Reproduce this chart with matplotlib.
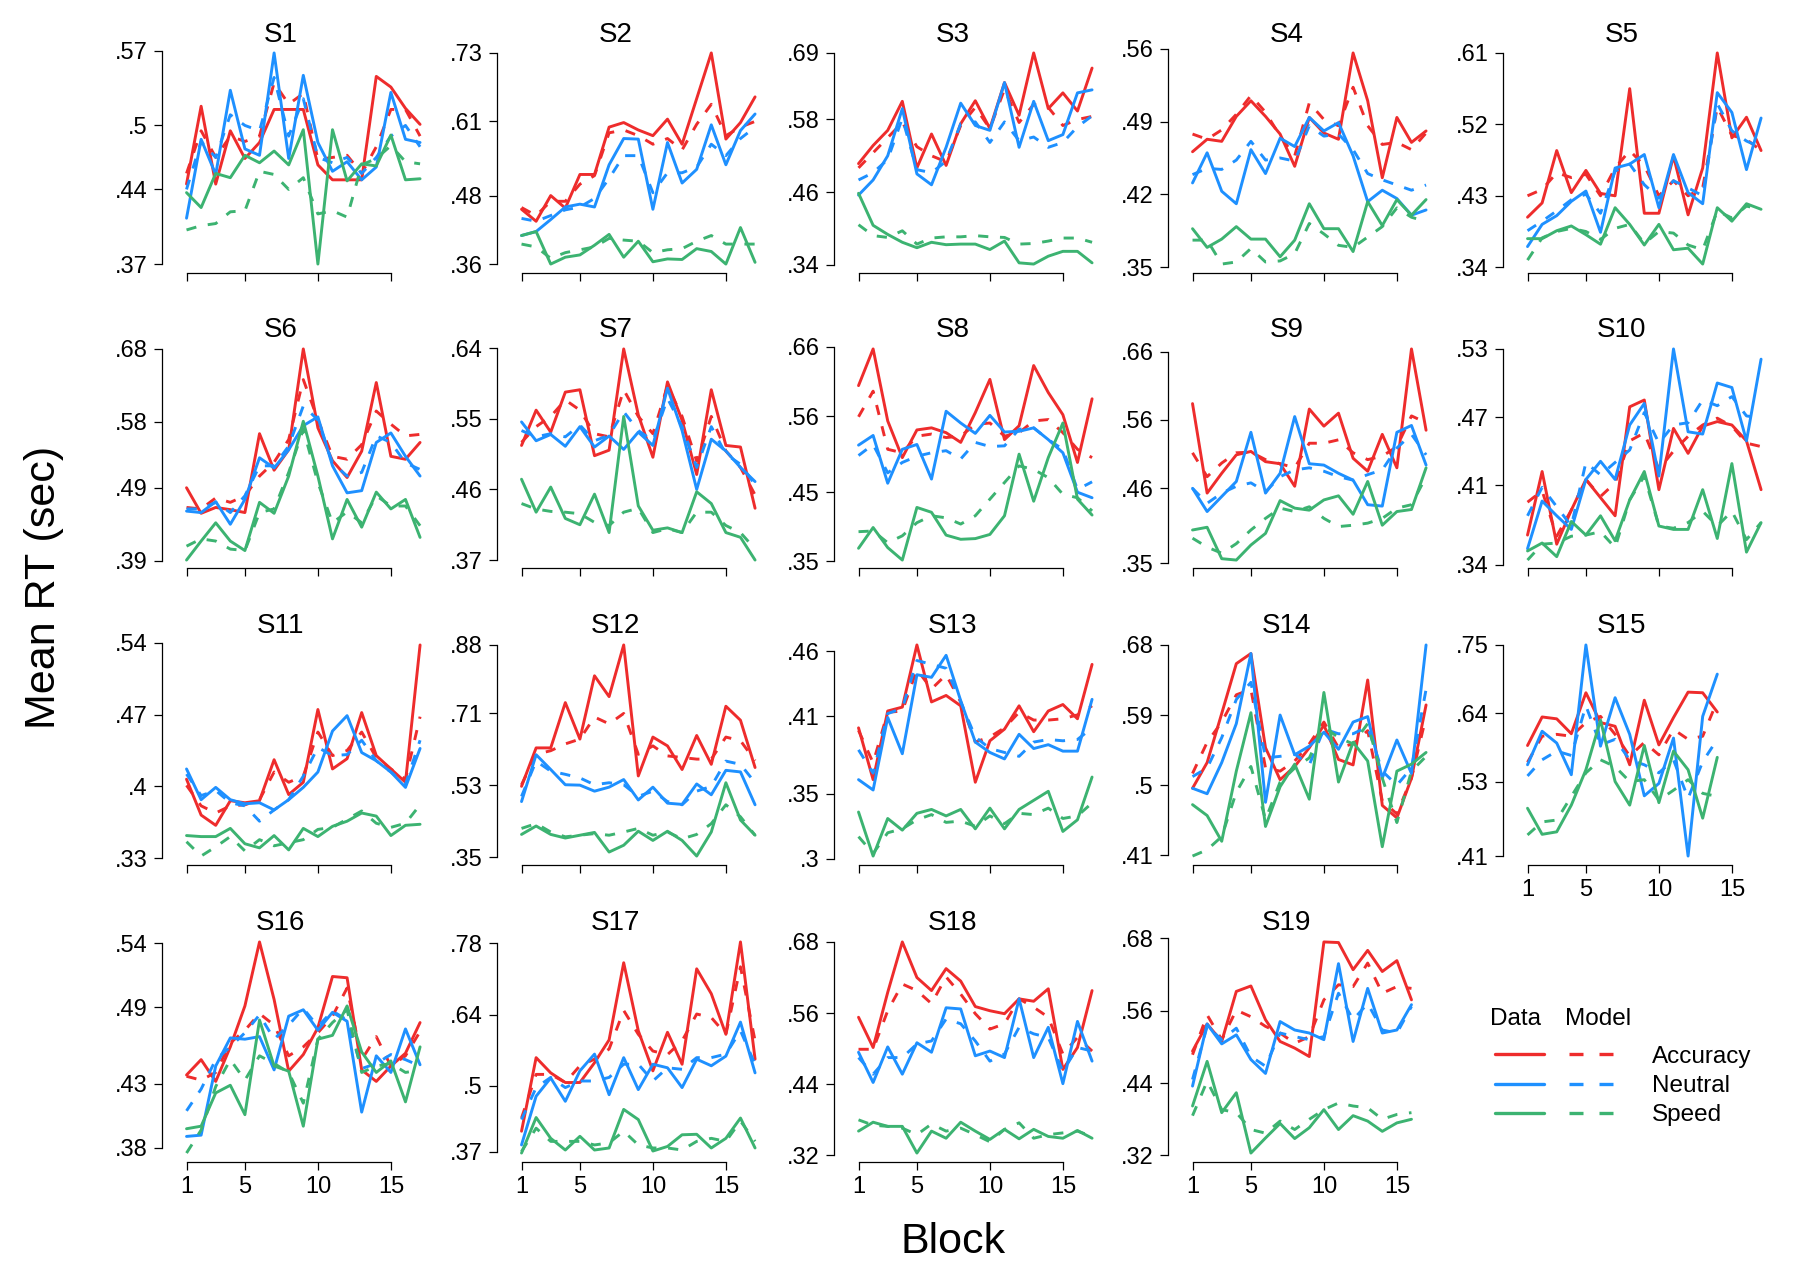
import numpy as np
import matplotlib
matplotlib.use('Agg')
import matplotlib.pyplot as plt
import matplotlib.transforms as mtransforms

plt.rcParams['font.family'] = ['Liberation Sans', 'DejaVu Sans']

subjects = ['S%d' % i for i in range(1, 20)]
x_ticks = [1, 5, 10, 15]

# y tick labels per subject (as printed)
y_ticks = [
    ['.37', '.44', '.5', '.57'], ['.36', '.48', '.61', '.73'], ['.34', '.46', '.58', '.69'],
    ['.35', '.42', '.49', '.56'], ['.34', '.43', '.52', '.61'], ['.39', '.49', '.58', '.68'],
    ['.37', '.46', '.55', '.64'], ['.35', '.45', '.56', '.66'], ['.35', '.46', '.56', '.66'],
    ['.34', '.41', '.47', '.53'], ['.33', '.4', '.47', '.54'], ['.35', '.53', '.71', '.88'],
    ['.3', '.35', '.41', '.46'], ['.41', '.5', '.59', '.68'], ['.41', '.53', '.64', '.75'],
    ['.38', '.43', '.49', '.54'], ['.37', '.5', '.64', '.78'], ['.32', '.44', '.56', '.68'],
    ['.32', '.44', '.56', '.68'],
]

acc_data = [
    [.445, .518, .445, .495, .469, .484, .515, .515, .515, .463, .449, .449, .449, .546, .536, .516, .501],
    [.456, .435, .48, .458, .517, .517, .60, .608, .595, .585, .614, .57, .65, .73, .579, .608, .653],
    [.507, .537, .562, .61, .50, .556, .504, .573, .611, .565, .641, .587, .69, .598, .624, .594, .665],
    [.461, .473, .471, .495, .51, .495, .478, .447, .494, .479, .473, .556, .51, .436, .494, .47, .481],
    [.403, .421, .487, .434, .462, .433, .43, .565, .408, .408, .48, .406, .465, .61, .503, .529, .487],
    [.49, .455, .463, .46, .456, .564, .514, .542, .68, .572, .527, .504, .54, .634, .533, .529, .552],
    [.516, .561, .533, .584, .587, .503, .51, .639, .555, .501, .597, .548, .479, .587, .516, .514, .436],
    [.604, .657, .553, .50, .54, .543, .536, .522, .565, .613, .526, .546, .633, .594, .562, .493, .585],
    [.584, .453, .482, .509, .514, .499, .496, .463, .576, .551, .57, .504, .485, .539, .49, .664, .545],
    [.366, .422, .358, .388, .415, .399, .383, .479, .485, .406, .46, .438, .462, .466, .463, .449, .406],
    [.407, .372, .362, .386, .384, .386, .426, .392, .404, .475, .417, .427, .472, .43, .417, .404, .538],
    [.527, .623, .623, .736, .645, .803, .751, .88, .553, .65, .628, .569, .654, .582, .727, .692, .574],
    [.401, .361, .414, .417, .465, .421, .426, .418, .359, .391, .40, .418, .398, .414, .419, .408, .45],
    [.496, .529, .592, .656, .669, .548, .507, .524, .548, .577, .533, .526, .635, .474, .458, .509, .603],
    [.588, .634, .631, .607, .673, .625, .619, .557, .661, .589, .633, .674, .673, .642],
    [.437, .449, .432, .459, .491, .541, .496, .44, .453, .474, .514, .513, .441, .432, .444, .454, .478],
    [.41, .555, .525, .506, .506, .545, .59, .742, .608, .529, .605, .542, .73, .681, .601, .783, .552],
    [.553, .502, .595, .68, .62, .598, .635, .614, .571, .564, .559, .584, .58, .601, .465, .502, .598],
    [.493, .538, .509, .592, .601, .545, .509, .498, .484, .674, .673, .628, .66, .625, .643, .578],
]

acc_model = [
    [.455, .495, .47, .49, .485, .49, .54, .52, .53, .468, .47, .472, .455, .48, .515, .515, .49],
    [.459, .445, .47, .47, .50, .515, .59, .595, .585, .57, .58, .56, .605, .64, .585, .60, .61],
    [.50, .525, .55, .575, .535, .52, .51, .57, .60, .565, .63, .575, .605, .60, .57, .58, .585],
    [.478, .473, .482, .497, .515, .499, .476, .457, .508, .492, .486, .523, .486, .468, .47, .463, .479],
    [.43, .438, .459, .453, .457, .43, .465, .487, .468, .43, .449, .43, .44, .542, .506, .501, .487],
    [.463, .461, .476, .47, .479, .506, .525, .556, .638, .583, .533, .529, .549, .595, .577, .561, .563],
    [.52, .54, .553, .574, .561, .531, .527, .587, .553, .531, .592, .553, .496, .553, .509, .488, .453],
    [.559, .596, .512, .507, .531, .534, .529, .531, .548, .55, .531, .536, .553, .555, .536, .512, .50],
    [.512, .477, .497, .512, .513, .502, .496, .49, .526, .526, .531, .512, .502, .507, .521, .566, .556],
    [.395, .405, .365, .388, .415, .40, .412, .449, .456, .424, .44, .453, .463, .469, .462, .447, .444],
    [.401, .381, .374, .381, .382, .387, .414, .404, .41, .453, .43, .435, .453, .428, .417, .407, .468],
    [.531, .607, .616, .633, .645, .70, .683, .709, .607, .628, .603, .599, .595, .595, .65, .641, .591],
    [.399, .374, .413, .414, .446, .431, .442, .421, .39, .394, .401, .413, .407, .407, .408, .411, .418],
    [.515, .555, .581, .616, .623, .522, .518, .531, .553, .581, .548, .553, .57, .48, .463, .509, .588],
    [.561, .603, .606, .603, .625, .635, .606, .571, .593, .573, .614, .598, .603, .66],
    [.436, .433, .439, .462, .472, .485, .476, .452, .459, .47, .483, .505, .449, .467, .444, .452, .471],
    [.436, .522, .522, .506, .539, .552, .572, .648, .601, .568, .561, .588, .641, .634, .601, .734, .588],
    [.499, .499, .564, .609, .598, .576, .621, .592, .559, .533, .542, .584, .57, .553, .491, .519, .496],
    [.487, .553, .512, .561, .55, .534, .523, .506, .517, .578, .603, .60, .639, .589, .60, .597],
]

neu_data = [
    [.413, .487, .454, .533, .478, .472, .568, .469, .547, .484, .457, .466, .449, .461, .531, .487, .484],
    [.41, .417, .438, .46, .465, .46, .534, .58, .579, .456, .573, .502, .526, .604, .534, .594, .623],
    [.455, .48, .52, .598, .49, .472, .534, .607, .57, .562, .641, .534, .61, .545, .555, .624, .629],
    [.431, .46, .423, .411, .463, .44, .474, .466, .494, .481, .489, .457, .413, .424, .416, .40, .405],
    [.366, .394, .405, .423, .436, .384, .465, .47, .482, .415, .482, .434, .42, .56, .535, .463, .528],
    [.458, .456, .471, .44, .474, .531, .517, .542, .575, .587, .52, .483, .486, .552, .565, .533, .506],
    [.546, .522, .53, .515, .54, .514, .528, .511, .533, .516, .589, .535, .46, .524, .509, .488, .47],
    [.518, .532, .463, .512, .519, .469, .567, .55, .535, .561, .537, .538, .543, .526, .507, .45, .442],
    [.46, .426, .448, .47, .542, .453, .482, .565, .496, .494, .482, .472, .436, .434, .542, .552, .494],
    [.354, .396, .383, .371, .415, .431, .415, .463, .482, .418, .53, .457, .455, .50, .496, .449, .521],
    [.417, .387, .399, .387, .383, .384, .377, .387, .399, .414, .454, .469, .433, .425, .414, .399, .437],
    [.489, .606, .569, .531, .53, .515, .525, .544, .493, .525, .485, .482, .533, .506, .567, .563, .481],
    [.361, .353, .409, .381, .442, .44, .457, .422, .39, .382, .377, .396, .385, .388, .383, .383, .423],
    [.496, .489, .529, .579, .669, .478, .59, .539, .55, .568, .546, .581, .588, .509, .558, .515, .68],
    [.557, .611, .592, .541, .75, .587, .665, .606, .507, .527, .60, .41, .635, .703],
    [.389, .39, .444, .466, .465, .467, .441, .483, .488, .472, .486, .479, .408, .452, .439, .473, .445],
    [.383, .479, .515, .469, .529, .562, .482, .555, .492, .542, .535, .496, .552, .539, .558, .625, .525],
    [.494, .443, .503, .457, .51, .494, .569, .567, .488, .496, .485, .584, .485, .536, .441, .546, .479],
    [.435, .538, .505, .52, .479, .456, .542, .528, .523, .512, .638, .509, .597, .523, .528, .57],
]

neu_model = [
    [.44, .485, .47, .51, .50, .495, .545, .49, .525, .47, .465, .47, .455, .47, .49, .50, .48],
    [.44, .435, .445, .455, .46, .475, .51, .55, .55, .485, .52, .52, .53, .57, .55, .58, .60],
    [.48, .492, .514, .582, .497, .492, .511, .573, .576, .542, .576, .545, .551, .534, .542, .568, .586],
    [.439, .445, .444, .453, .471, .453, .455, .452, .486, .476, .478, .463, .44, .434, .429, .424, .429],
    [.386, .398, .411, .425, .432, .408, .461, .47, .444, .427, .449, .44, .43, .546, .512, .499, .491],
    [.461, .461, .47, .456, .479, .52, .52, .547, .602, .583, .524, .506, .511, .561, .552, .524, .515],
    [.535, .527, .531, .527, .542, .522, .529, .559, .535, .522, .576, .54, .488, .54, .505, .492, .466],
    [.503, .519, .478, .493, .502, .507, .51, .498, .522, .516, .517, .541, .543, .526, .512, .454, .465],
    [.46, .438, .453, .463, .468, .455, .477, .487, .49, .485, .477, .472, .48, .487, .519, .539, .509],
    [.383, .408, .391, .374, .43, .419, .43, .441, .474, .447, .463, .465, .485, .48, .488, .471, .469],
    [.412, .391, .396, .384, .381, .366, .377, .387, .41, .438, .43, .431, .445, .425, .414, .402, .445],
    [.502, .59, .565, .557, .548, .531, .536, .531, .502, .515, .489, .481, .515, .527, .59, .582, .536],
    [.384, .366, .412, .416, .453, .45, .447, .421, .394, .385, .382, .379, .39, .392, .391, .392, .401],
    [.511, .522, .561, .61, .632, .535, .537, .54, .526, .572, .566, .566, .575, .518, .50, .522, .623],
    [.539, .565, .579, .572, .652, .589, .598, .565, .557, .544, .565, .503, .562, .598],
    [.409, .426, .449, .459, .47, .484, .465, .476, .489, .475, .487, .48, .442, .446, .453, .449, .444],
    [.433, .496, .516, .496, .509, .509, .516, .542, .542, .509, .535, .532, .555, .555, .562, .608, .542],
    [.485, .457, .485, .485, .508, .513, .55, .542, .513, .479, .491, .536, .525, .519, .462, .502, .496],
    [.446, .534, .512, .531, .484, .468, .523, .517, .512, .517, .589, .545, .572, .528, .523, .567],
]

spd_data = [
    [.437, .423, .455, .451, .472, .465, .476, .463, .496, .37, .496, .448, .464, .462, .491, .449, .45],
    [.41, .417, .36, .372, .376, .393, .412, .372, .40, .364, .369, .368, .387, .382, .36, .424, .363],
    [.458, .405, .39, .377, .368, .377, .373, .374, .374, .365, .379, .343, .341, .354, .362, .362, .343],
    [.387, .369, .377, .389, .377, .377, .36, .376, .411, .387, .387, .365, .413, .39, .415, .40, .415],
    [.376, .376, .386, .392, .381, .369, .415, .394, .368, .394, .362, .364, .344, .415, .398, .42, .413],
    [.391, .417, .442, .417, .404, .47, .455, .506, .581, .506, .42, .474, .436, .484, .461, .474, .422],
    [.473, .431, .463, .423, .415, .454, .405, .553, .439, .408, .411, .405, .457, .442, .405, .399, .37],
    [.369, .399, .37, .352, .428, .421, .388, .382, .383, .389, .416, .505, .437, .50, .55, .44, .417],
    [.399, .403, .357, .355, .377, .394, .442, .431, .428, .443, .449, .422, .47, .406, .426, .429, .49],
    [.352, .359, .347, .378, .366, .383, .361, .397, .422, .374, .371, .371, .406, .363, .429, .351, .377],
    [.352, .351, .351, .359, .344, .34, .352, .338, .359, .351, .361, .366, .374, .371, .352, .362, .363],
    [.407, .428, .407, .398, .405, .412, .363, .38, .415, .392, .415, .392, .353, .413, .536, .443, .405],
    [.336, .302, .331, .322, .335, .338, .333, .338, .323, .339, .323, .338, .345, .352, .321, .33, .363],
    [.475, .461, .428, .518, .593, .447, .498, .527, .482, .619, .504, .555, .531, .421, .518, .527, .542],
    [.487, .445, .449, .492, .549, .629, .53, .492, .588, .496, .579, .549, .471, .569],
    [.395, .397, .423, .429, .406, .48, .444, .44, .397, .465, .468, .491, .455, .439, .448, .416, .459],
    [.367, .437, .396, .373, .40, .373, .377, .453, .433, .371, .38, .403, .404, .377, .396, .436, .377],
    [.361, .376, .369, .369, .324, .361, .349, .376, .361, .347, .364, .348, .364, .352, .349, .362, .349],
    [.402, .476, .391, .424, .324, .349, .373, .348, .366, .396, .363, .386, .377, .36, .374, .38],
]

spd_model = [
    [.402, .406, .408, .419, .42, .457, .454, .44, .451, .417, .42, .414, .463, .469, .481, .466, .464],
    [.395, .39, .37, .38, .385, .39, .405, .402, .40, .38, .385, .387, .40, .41, .395, .395, .395],
    [.406, .388, .385, .396, .374, .384, .386, .386, .388, .386, .385, .374, .375, .379, .384, .384, .377],
    [.376, .376, .353, .355, .368, .355, .356, .363, .392, .382, .371, .369, .379, .389, .407, .398, .394],
    [.349, .377, .385, .389, .385, .375, .389, .394, .37, .385, .383, .368, .362, .411, .402, .417, .413],
    [.41, .42, .417, .406, .404, .456, .461, .511, .57, .497, .442, .457, .442, .479, .465, .465, .438],
    [.442, .435, .432, .431, .429, .418, .414, .431, .436, .405, .41, .405, .431, .431, .414, .405, .384],
    [.393, .394, .377, .387, .406, .416, .413, .404, .416, .44, .464, .488, .483, .471, .447, .442, .423],
    [.387, .374, .365, .379, .399, .416, .431, .426, .433, .416, .404, .406, .409, .416, .431, .436, .477],
    [.344, .358, .359, .365, .366, .369, .355, .397, .418, .374, .372, .377, .387, .374, .387, .362, .377],
    [.346, .332, .341, .351, .337, .348, .342, .345, .348, .358, .36, .368, .376, .364, .36, .364, .382],
    [.422, .434, .413, .401, .405, .409, .405, .413, .422, .405, .413, .396, .407, .434, .481, .451, .405],
    [.317, .304, .32, .323, .33, .334, .328, .329, .325, .333, .327, .335, .334, .339, .331, .333, .343],
    [.409, .417, .434, .491, .524, .456, .504, .522, .535, .575, .561, .553, .579, .509, .452, .518, .537],
    [.444, .465, .468, .506, .544, .565, .554, .53, .533, .50, .516, .533, .511, .506],
    [.376, .394, .428, .449, .433, .452, .446, .439, .415, .465, .478, .488, .439, .444, .446, .439, .441],
    [.37, .416, .39, .39, .39, .383, .387, .41, .383, .377, .377, .373, .39, .396, .39, .43, .39],
    [.38, .371, .369, .366, .355, .373, .361, .366, .355, .343, .364, .375, .349, .355, .358, .361, .352],
    [.386, .443, .396, .391, .363, .357, .377, .363, .38, .396, .407, .402, .399, .38, .388, .391],
]

conditions = ['Accuracy', 'Neutral', 'Speed']
colors = ['#EE2C2C', '#1E90FF', '#3CB371']
dash = (0, (3.5, 4))

FW, FH = 1800, 1275
fig = plt.figure(figsize=(FW / 100, FH / 100), dpi=100)

col_left = [162, 497, 834, 1168, 1503]
row_top = [44.5, 340.5, 636.5, 933.5]
aw, ah = 268, 228

for i, name in enumerate(subjects):
    r, c = divmod(i, 5)
    ax = fig.add_axes([col_left[c] / FW, 1 - (row_top[r] + ah) / FH, aw / FW, ah / FH])
    groups = [(acc_data[i], acc_model[i]), (neu_data[i], neu_model[i]), (spd_data[i], spd_model[i])]
    allv = []
    for (d, m), col in zip(groups, colors):
        ax.plot(np.arange(1, len(d) + 1), d, color=col, lw=2.1,
                solid_joinstyle='round', solid_capstyle='round')
        ax.plot(np.arange(1, len(m) + 1), m, color=col, lw=2.1, linestyle=dash)
        allv += list(d) + list(m)
    lo, hi = min(allv), max(allv)
    pad = 0.04 * (hi - lo)
    ax.set_ylim(lo - pad, hi + pad)
    ax.set_xlim(-0.68, 17.68)

    yt = [float(s) for s in y_ticks[i]]
    ax.set_yticks(yt)
    ax.set_yticklabels(y_ticks[i])
    ax.set_xticks(x_ticks)
    if r == 3 or name == 'S15':
        ax.set_xticklabels([str(t) for t in x_ticks])
    else:
        ax.set_xticklabels([])

    for s in ['top', 'right']:
        ax.spines[s].set_visible(False)
    ax.spines['left'].set_bounds(yt[0], yt[-1])
    ax.spines['bottom'].set_bounds(1, 15)
    for s in ['left', 'bottom']:
        ax.spines[s].set_linewidth(0.9)
    ax.tick_params(direction='out', length=5.5, width=0.9, labelsize=17, pad=5)
    ax.patch.set_alpha(0)

    trans = mtransforms.blended_transform_factory(ax.transData, ax.transAxes)
    ax.text(7.45, 1 + 3 / ah, name, transform=trans, ha='center', va='baseline', fontsize=20)

# overlay in pixel coordinates for shared labels and legend
ov = fig.add_axes([0, 0, 1, 1])
ov.set_xlim(0, FW)
ov.set_ylim(FH, 0)
ov.axis('off')

ov.text(44, 587, 'Mean RT (sec)', rotation=90, ha='center', va='center', fontsize=31)
ov.text(953, 1242, 'Block', ha='center', va='center', fontsize=31)

ov.text(1490, 1025, 'Data', ha='left', va='baseline', fontsize=17.5)
ov.text(1565, 1025, 'Model', ha='left', va='baseline', fontsize=17.5)
for k, (lab, col) in enumerate(zip(conditions, colors)):
    yy = 1054 + 29.5 * k
    ov.plot([1495, 1544], [yy, yy], color=col, lw=2.4, solid_capstyle='round')
    ov.plot([1569, 1613], [yy, yy], color=col, lw=2.4, linestyle=(0, (4.2, 4.8)))
    ov.text(1652, yy, lab, ha='left', va='center_baseline', fontsize=17.5)

fig.savefig('out.png', dpi=100)
